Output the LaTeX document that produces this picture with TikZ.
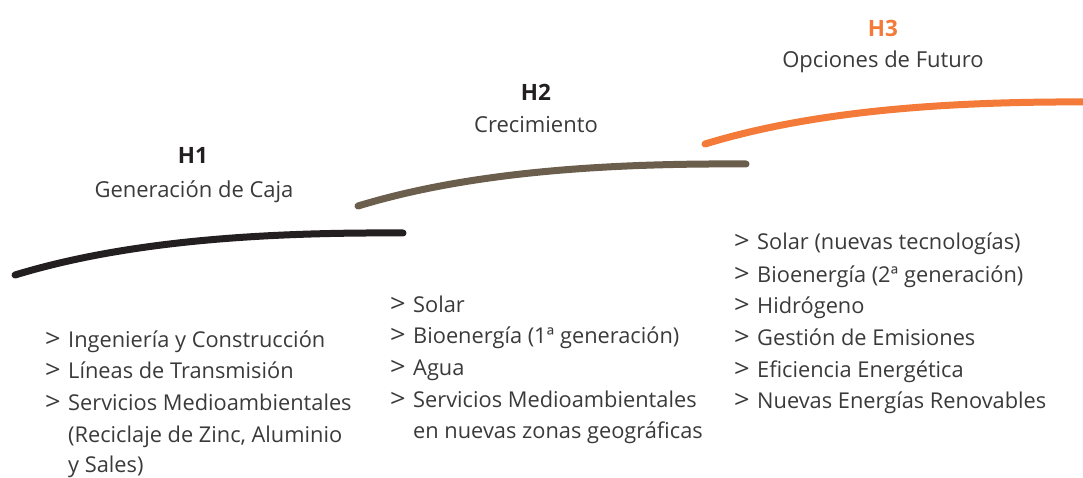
\documentclass[tikz,border=0pt]{standalone}
\usepackage{graphicx}
\usepackage{fontspec}
\setmainfont{Open Sans}
\definecolor{hblack}{HTML}{231F20}
\definecolor{hbrown}{HTML}{6B5E4C}
\definecolor{horange}{HTML}{F37A38}
\definecolor{txt}{HTML}{3A3A3A}
\newcommand{\gt}{\makebox[23pt][l]{\scalebox{1.25}[1.15]{>}}}
\tikzset{
  curve/.style={line width=7pt, line cap=round},
  head/.style={anchor=base, font=\fontsize{22.5}{26}\selectfont\bfseries, inner sep=0pt},
  sub/.style={anchor=base, font=\fontsize{22}{26}\selectfont, text=txt, inner sep=0pt},
  item/.style={anchor=base west, font=\fontsize{21.8}{26}\selectfont, text=txt, inner sep=0pt},
}
\begin{document}
\begin{tikzpicture}[x=1pt,y=-1pt]
\useasboundingbox (0,0) rectangle (1083,478);
\clip (0,0) rectangle (1083,478);
% curves
\coordinate (c1a) at (15,275);  \coordinate (c1b) at (403,233);
\coordinate (c2a) at (358,206); \coordinate (c2b) at (746,164);
\coordinate (c3a) at (705,144); \coordinate (c3b) at (1093,102);
\draw[curve, hblack] (c1a) .. controls (120,243) and (250,232) .. (c1b);
\draw[curve, hbrown] (c2a) .. controls (463,174) and (593,163) .. (c2b);
\draw[curve, horange] (c3a) .. controls (810,112) and (940,101) .. (c3b);
% headings
\node[head, text=hblack] (h1) at (193,164) {H1};
\node[sub] (s1) at (194,198) {Generación de Caja};
\node[head, text=hblack] (h2) at (536,101) {H2};
\node[sub] (s2) at (536,133) {Crecimiento};
\node[head, text=horange] (h3) at (883,37) {H3};
\node[sub] (s3) at (883,68) {Opciones de Futuro};
% list 1
\node[item] (a1) at (45,347) {\gt Ingeniería y Construcción};
\node[item] (a2) at (45,378) {\gt Líneas de Transmisión};
\node[item] (a3) at (45,410) {\gt Servicios Medioambientales};
\node[item] (a4) at (68,442) {(Reciclaje de Zinc, Aluminio};
\node[item] (a5) at (68,472) {y Sales)};
% list 2
\node[item] (b1) at (390,312) {\gt Solar};
\node[item] (b2) at (390,343) {\gt Bioenergía (1ª generación)};
\node[item] (b3) at (390,375) {\gt Agua};
\node[item] (b4) at (390,407) {\gt Servicios Medioambientales};
\node[item] (b5) at (413,438) {en nuevas zonas geográficas};
% list 3
\node[item] (d1) at (734,250) {\gt Solar (nuevas tecnologías)};
\node[item] (d2) at (734,282) {\gt Bioenergía (2ª generación)};
\node[item] (d3) at (734,313) {\gt Hidrógeno};
\node[item] (d4) at (734,345) {\gt Gestión de Emisiones};
\node[item] (d5) at (734,377) {\gt Eficiencia Energética};
\node[item] (d6) at (734,408) {\gt Nuevas Energías Renovables};
\end{tikzpicture}
\end{document}
